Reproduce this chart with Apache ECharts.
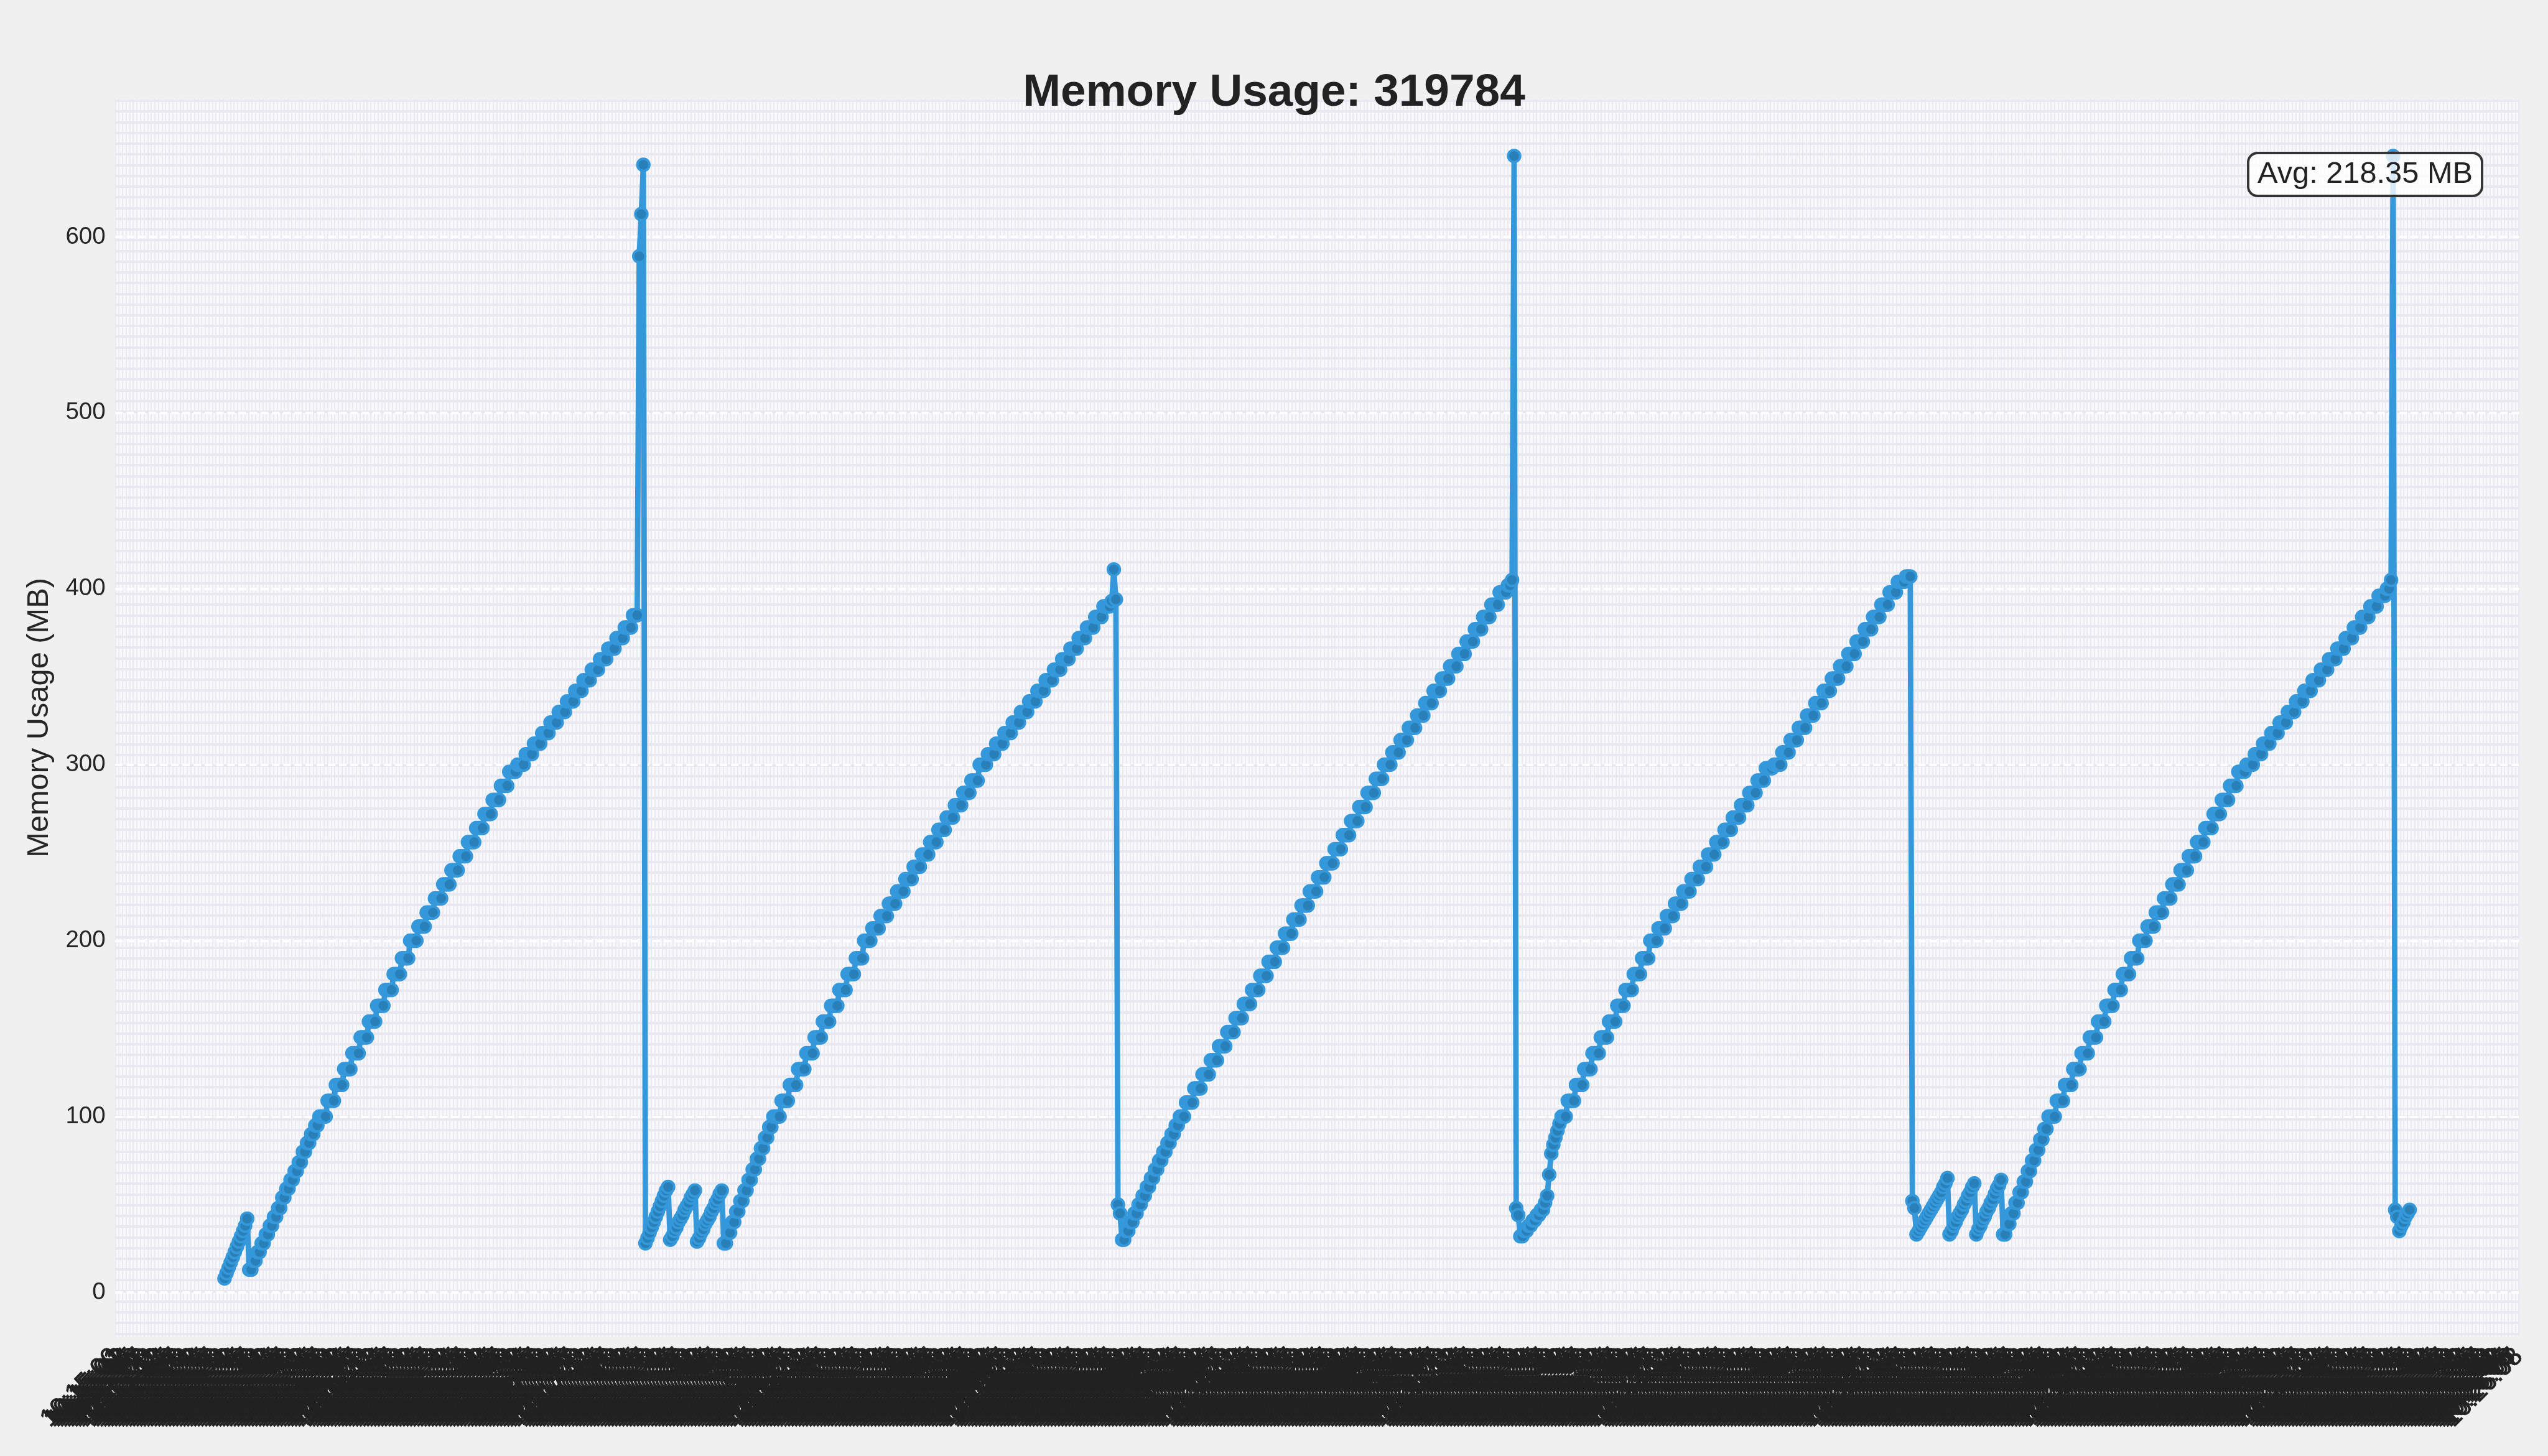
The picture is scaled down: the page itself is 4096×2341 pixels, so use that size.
<!DOCTYPE html>
<html>
<head>
<meta charset="utf-8">
<script src="https://cdn.jsdelivr.net/npm/echarts@6/dist/echarts.min.js"></script>
<style>
html,body{margin:0;padding:0;background:#f0f0f0;}
#c{width:4096px;height:2341px;}
</style>
</head>
<body>
<div id="c"></div>
<script>
// ---- data ----
const seg0 = [8,11,14,17,20,23,26,29,32,35,38,42];
const rampA = [
13,13,18,18,23,23,28,28,33,33,38,38,43,43,48,48,54,54,59,59,64,64,69,69,74,74,80,80,85,85,90,90,95,95,100,
100,100,100,109,109,109,109,118,118,118,118,127,127,127,127,136,136,136,136,145,145,145,145,154,154,154,154,163,163,163,163,172,172,172,172,181,181,181,181,190,190,190,190,200,200,
200,200,208,208,208,208,216,216,216,216,224,224,224,224,232,232,232,232,240,240,240,240,248,248,248,248,256,256,256,256,264,264,264,264,272,272,272,272,280,280,280,280,288,288,288,288,296,296,296,296,300,
300,300,300,306,306,306,306,312,312,312,312,318,318,318,318,324,324,324,324,330,330,330,330,336,336,336,336,342,342,342,342,348,348,348,348,354,354,354,354,360,360,360,360,366,366,366,366,372,372,372,372,378,378,378,378,385,385,385
];
const spike1 = [589,613,641];
const saw1 = [28,31,34,37,40,43,46,49,52,55,58,60, 30,32,35,37,40,42,44,47,49,51,54,56,58, 29,31,34,36,39,41,43,46,48,51,53,56,58];
const rampB = [
28,28,34,34,40,40,46,46,52,52,58,58,64,64,70,70,76,76,82,82,88,88,94,94,100,100,
100,100,109,109,109,109,118,118,118,118,127,127,127,127,136,136,136,136,145,145,145,145,154,154,154,154,163,163,163,163,172,172,172,172,181,181,181,181,190,190,190,190,200,200,200,
200,207,207,207,207,214,214,214,214,221,221,221,221,228,228,228,228,235,235,235,235,242,242,242,242,249,249,249,249,256,256,256,256,263,263,263,263,270,270,270,270,277,277,277,277,284,284,284,284,291,291,291,291,300,300,
300,300,306,306,306,306,312,312,312,312,318,318,318,318,324,324,324,324,330,330,330,330,336,336,336,336,342,342,342,342,348,348,348,348,354,354,354,354,360,360,360,360,366,366,366,366,372,372,372,372,378,378,378,378,384,384,384,384,390,390,390,390,393
];
const top1 = [411,394,50,45];
const rampC = [
30,30,35,35,40,40,45,45,50,50,55,55,60,60,65,65,70,70,75,75,80,80,85,85,90,90,95,95,100,
100,100,108,108,108,108,116,116,116,116,124,124,124,124,132,132,132,132,140,140,140,140,148,148,148,148,156,156,156,156,164,164,164,164,172,172,172,172,180,180,180,180,188,188,188,188,196,196,196,196,
204,204,204,204,212,212,212,212,220,220,220,220,228,228,228,228,236,236,236,236,244,244,244,244,252,252,252,252,260,260,260,260,268,268,268,268,276,276,276,276,284,284,284,284,292,292,292,292,300,300,
300,300,307,307,307,307,314,314,314,314,321,321,321,321,328,328,328,328,335,335,335,335,342,342,342,342,349,349,349,349,356,356,356,356,363,363,363,363,370,370,370,370,377,377,377,377,384,384,384,384,391,391,391,391,398,398,398,398,402,402,405
];
const spike2 = [646,48,44];
const rampD = [
32,32,35,35,38,38,41,41,44,44,47,47,51,55,67,79,84,88,92,96,100,
100,100,109,109,109,109,118,118,118,118,127,127,127,127,136,136,136,136,145,145,145,145,154,154,154,154,163,163,163,163,172,172,172,172,181,181,181,181,190,190,190,190,200,200,200,200,
207,207,207,207,214,214,214,214,221,221,221,221,228,228,228,228,235,235,235,235,242,242,242,242,249,249,249,249,256,256,256,256,263,263,263,263,270,270,270,270,277,277,277,277,284,284,284,284,291,291,291,291,298,298,298,298,300,300,300,
300,307,307,307,307,314,314,314,314,321,321,321,321,328,328,328,328,335,335,335,335,342,342,342,342,349,349,349,349,356,356,356,356,363,363,363,363,370,370,370,370,377,377,377,377,384,384,384,384,391,391,391,391,398,398,398,398,404,404,404,404,407,407,407
];
const drop3 = [52,48];
const saw2 = [33,35,37,39,41,43,45,47,49,51,53,55,57,60,62,65, 33,35,38,40,43,45,47,50,52,55,57,60,62, 33,36,38,41,43,46,48,51,53,56,59,61,64];
const rampE = [
33,33,39,39,45,45,51,51,57,57,63,63,69,69,75,75,81,81,87,87,93,93,100,
100,100,100,109,109,109,109,118,118,118,118,127,127,127,127,136,136,136,136,145,145,145,145,154,154,154,154,163,163,163,163,172,172,172,172,181,181,181,181,190,190,190,190,200,
200,200,200,208,208,208,208,216,216,216,216,224,224,224,224,232,232,232,232,240,240,240,240,248,248,248,248,256,256,256,256,264,264,264,264,272,272,272,272,280,280,280,280,288,288,288,288,296,296,296,296,300,300,
300,300,306,306,306,306,312,312,312,312,318,318,318,318,324,324,324,324,330,330,330,330,336,336,336,336,342,342,342,342,348,348,348,348,354,354,354,354,360,360,360,360,366,366,366,366,372,372,372,372,378,378,378,378,384,384,384,384,390,390,390,390,396,396,396,396,400,400,405
];
const spike3 = [646];
const tail = [47,43,35,38,40,43,45,47];

const titleText = 'Memory Usage: 319784';
const yAxisName = 'Memory Usage (MB)';
const avgText = 'Avg: 218.35 MB';
const yTickStep = 100;

// x tick labels (illegible in the reference: overlapping time stamps)
const tickCount = 669;
const tickStartSeconds = 10 * 3600 + 15 * 60;
const tickLabels = [];
for (let k = 0; k < tickCount; k++) {
  const s = tickStartSeconds + k;
  const hh = String(Math.floor(s / 3600)).padStart(2, '0');
  const mm = String(Math.floor(s / 60) % 60).padStart(2, '0');
  const ss = String(s % 60).padStart(2, '0');
  tickLabels.push(hh + ':' + mm + ':' + ss);
}

const memoryValues = [].concat(seg0, rampA, spike1, saw1, rampB, top1, rampC, spike2, rampD, drop3, saw2, rampE, spike3, tail);
const n = memoryValues.length;
const seriesData = memoryValues.map((v, i) => [i, v]);

const chart = echarts.init(document.getElementById('c'), null, {renderer: 'canvas'});
const FONT = 'Liberation Sans';
chart.setOption({
  backgroundColor: '#f0f0f0',
  animation: false,
  textStyle: {fontFamily: FONT},
  title: [
    {
      text: titleText, left: 'center', top: 108,
      textStyle: {fontSize: 73, fontWeight: 'bold', color: '#222222', fontFamily: FONT}
    },
    {
      text: avgText, right: 106, top: 246, padding: [10, 15],
      backgroundColor: 'rgba(255,255,255,0.8)', borderColor: '#333333', borderWidth: 3.9, borderRadius: 15,
      textStyle: {fontSize: 48.75, fontWeight: 'normal', color: '#222222', fontFamily: FONT}
    }
  ],
  grid: {
    left: 185.25, right: 46.8, top: 158.9, bottom: 192.1,
    show: true, backgroundColor: '#f8f8fb', borderWidth: 0,
    containLabel: false, outerBoundsMode: 'none'
  },
  xAxis: [
    {type: 'value', min: -0.05 * (n - 1), max: 1.05 * (n - 1), show: false},
    {
      type: 'category', data: tickLabels, boundaryGap: false, position: 'bottom', z: 0,
      axisLine: {show: false}, axisTick: {show: false},
      axisLabel: {interval: 0, rotate: 45, fontSize: 41, color: '#222222', margin: 26, fontFamily: FONT,
                  textBorderColor: '#222222', textBorderWidth: 1},
      splitLine: {show: true, interval: 0, lineStyle: {color: '#e6e6ee', width: 1.5}}
    }
  ],
  yAxis: [
    {
      type: 'value', min: -25, max: 678.5, minInterval: yTickStep, maxInterval: yTickStep, z: 1,
      name: yAxisName, nameLocation: 'middle', nameGap: 97,
      nameTextStyle: {fontSize: 48.75, color: '#262626', fontFamily: FONT},
      axisLine: {show: false}, axisTick: {show: false},
      axisLabel: {fontSize: 38.5, color: '#262626', margin: 15.6, showMinLabel: false, showMaxLabel: false, fontFamily: FONT},
      splitLine: {show: true, showMinLine: false, showMaxLine: false, lineStyle: {color: '#ffffff', width: 3.9, type: [12, 6]}}
    },
    {
      type: 'value', min: -0.26, max: 115.18, minInterval: 1, maxInterval: 1, position: 'right', z: 0.5,
      axisLine: {show: false}, axisTick: {show: false}, axisLabel: {show: false},
      splitLine: {show: true, showMinLine: false, showMaxLine: false, lineStyle: {color: '#e8e8f0', width: 3.9}}
    }
  ],
  series: [{
    type: 'line', xAxisIndex: 0, yAxisIndex: 0, data: seriesData,
    symbol: 'circle', symbolSize: 19.5, showSymbol: true, showAllSymbol: true,
    lineStyle: {color: '#3498db', width: 8.8, join: 'round', cap: 'round'},
    itemStyle: {color: '#2980b9', borderColor: '#3498db', borderWidth: 3.9},
    emphasis: {disabled: true}, silent: true, z: 3
  }]
});
</script>
</body>
</html>
